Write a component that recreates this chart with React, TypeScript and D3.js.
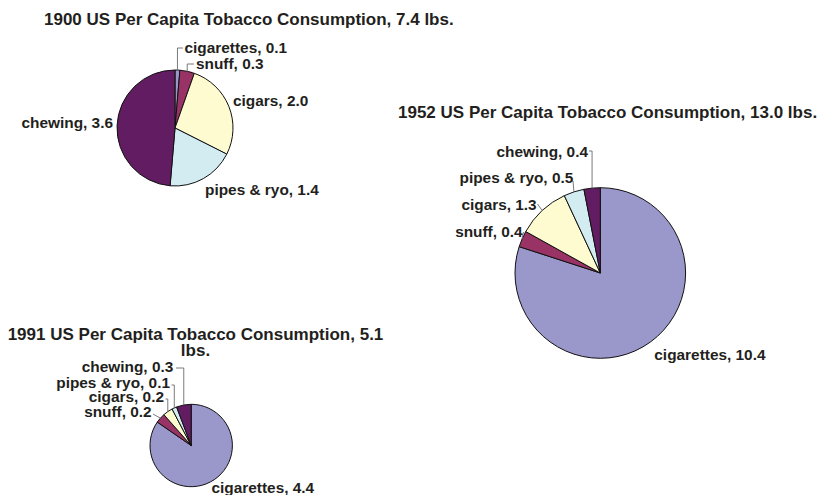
import React from "react";
import * as d3 from "d3";

// ---- data ----
const categories = ["cigarettes", "snuff", "cigars", "pipes & ryo", "chewing"];
const years = ["1900", "1952", "1991"];
const totals = ["7.4", "13.0", "5.1"];
const values1900 = [0.1, 0.3, 2.0, 1.4, 3.6];
const values1952 = [10.4, 0.4, 1.3, 0.5, 0.4];
const values1991 = [4.4, 0.2, 0.2, 0.1, 0.3];

// ---- styles ----
const colors = ["#9a98cb", "#993366", "#fdfbcf", "#d3ecf2", "#621c62"];
const FONT = "'Liberation Sans', Arial, Helvetica, sans-serif";
const TEXT = "#231f20";

type Lbl = { x: number; y: number; anchor: "start" | "end"; leader?: "elbow" | "line"; lx?: number; ly?: number };
type Layout = {
  cx: number; cy: number; r: number;
  titleLines: { x: number; y: number; anchor: "start" | "middle" }[];
  labels: Lbl[];
};

const layouts: Layout[] = [
  {
    cx: 175, cy: 128, r: 58,
    titleLines: [{ x: 44, y: 25, anchor: "start" }],
    labels: [
      { x: 184.5, y: 53, anchor: "start", leader: "elbow", lx: 183, ly: 48 },
      { x: 196, y: 68.5, anchor: "start", leader: "elbow", lx: 194, ly: 64 },
      { x: 233, y: 106, anchor: "start" },
      { x: 205, y: 194.5, anchor: "start" },
      { x: 113, y: 127.5, anchor: "end" },
    ],
  },
  {
    cx: 600.3, cy: 273, r: 85.3,
    titleLines: [{ x: 398, y: 117.5, anchor: "start" }],
    labels: [
      { x: 654.3, y: 360, anchor: "start" },
      { x: 522.7, y: 236.7, anchor: "end", leader: "line", lx: 523.5, ly: 232 },
      { x: 536.7, y: 210, anchor: "end", leader: "line", lx: 537.5, ly: 204 },
      { x: 573.3, y: 183.3, anchor: "end", leader: "line", lx: 573, ly: 181 },
      { x: 588, y: 157.3, anchor: "end", leader: "elbow", lx: 589, ly: 151 },
    ],
  },
  {
    cx: 191.2, cy: 445.5, r: 41.2,
    titleLines: [
      { x: 195.5, y: 339.5, anchor: "middle" },
      { x: 195.5, y: 356, anchor: "middle" },
    ],
    labels: [
      { x: 211.5, y: 492.5, anchor: "start" },
      { x: 151.7, y: 416.7, anchor: "end", leader: "line", lx: 153, ly: 414 },
      { x: 164, y: 401.7, anchor: "end", leader: "elbow", lx: 165.5, ly: 399 },
      { x: 170, y: 388.3, anchor: "end", leader: "elbow", lx: 171.5, ly: 385 },
      { x: 173.3, y: 371.7, anchor: "end", leader: "elbow", lx: 176, ly: 368 },
    ],
  },
];

const seriesValues = [values1900, values1952, values1991];

function titleFor(i: number): string[] {
  const full = `${years[i]} US Per Capita Tobacco Consumption, ${totals[i]}`;
  if (i === 2) return [full, "lbs."];
  return [`${full} lbs.`];
}

function Pie({ values, layout, index }: { values: number[]; layout: Layout; index: number }) {
  const pie = d3.pie<number>().sort(null).value((d) => d)(values);
  const arc = d3.arc<d3.PieArcDatum<number>>().innerRadius(0).outerRadius(layout.r);
  const lines = titleFor(index);
  return (
    <g>
      {lines.map((t, k) => (
        <text
          key={"t" + k}
          x={layout.titleLines[k].x}
          y={layout.titleLines[k].y}
          textAnchor={layout.titleLines[k].anchor}
          fontFamily={FONT}
          fontWeight="bold"
          fontSize={17}
          fill={TEXT}
        >
          {t}
        </text>
      ))}
      <g transform={`translate(${layout.cx},${layout.cy})`}>
        {pie.map((d, k) => (
          <path key={k} d={arc(d) || ""} fill={colors[k]} stroke="#111" strokeWidth={1} strokeLinejoin="round" />
        ))}
      </g>
      {pie.map((d, k) => {
        const lab = layout.labels[k];
        const mid = (d.startAngle + d.endAngle) / 2;
        const ax = layout.cx + layout.r * Math.sin(mid);
        const ay = layout.cy - layout.r * Math.cos(mid);
        let leader = null;
        if (lab.leader === "elbow") {
          leader = (
            <path d={`M${ax},${ay}L${ax},${lab.ly}L${lab.lx},${lab.ly}`} fill="none" stroke="#6b6b6b" strokeWidth={0.9} />
          );
        } else if (lab.leader === "line") {
          leader = <path d={`M${ax},${ay}L${lab.lx},${lab.ly}`} fill="none" stroke="#6b6b6b" strokeWidth={0.9} />;
        }
        return (
          <g key={"l" + k}>
            {leader}
            <text
              x={lab.x}
              y={lab.y}
              textAnchor={lab.anchor}
              fontFamily={FONT}
              fontWeight="bold"
              fontSize={15.4}
              fill={TEXT}
            >
              {`${categories[k]}, ${values[k].toFixed(1)}`}
            </text>
          </g>
        );
      })}
    </g>
  );
}

export default function App() {
  return (
    <svg
      width={823}
      height={495}
      viewBox="0 0 823 495"
      style={{ position: "absolute", left: 0, top: 0, background: "#fff" }}
    >
      <rect x={0} y={0} width={823} height={495} fill="#fff" />
      {seriesValues.map((v, i) => (
        <Pie key={i} values={v} layout={layouts[i]} index={i} />
      ))}
    </svg>
  );
}
